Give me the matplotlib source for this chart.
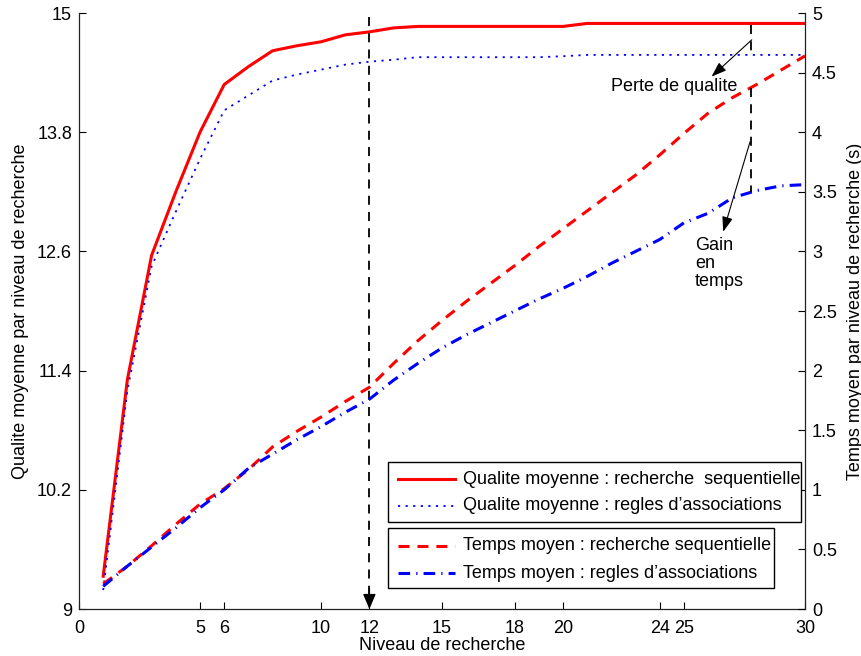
import matplotlib
matplotlib.use("Agg")
import matplotlib.pyplot as plt
from matplotlib.lines import Line2D
from matplotlib.patches import Rectangle

plt.rcParams['font.family'] = ['Liberation Sans', 'DejaVu Sans']
plt.rcParams['font.size'] = 13

# ---- data ----
niveaux = list(range(1, 31))
qualite_seq = [9.33, 11.31, 12.56, 13.20, 13.80, 14.28, 14.46, 14.62, 14.67, 14.71,
               14.78, 14.81, 14.85, 14.865, 14.865, 14.865, 14.865, 14.865, 14.865, 14.865,
               14.895, 14.895, 14.895, 14.895, 14.895, 14.895, 14.895, 14.895, 14.895, 14.895]
qualite_regles = [9.19, 11.20, 12.45, 13.00, 13.53, 14.02, 14.17, 14.32, 14.38, 14.43,
                  14.48, 14.51, 14.53, 14.555, 14.555, 14.555, 14.555, 14.555, 14.555, 14.565,
                  14.578, 14.578, 14.578, 14.578, 14.578, 14.578, 14.578, 14.578, 14.578, 14.578]
temps_seq = [0.21, 0.36, 0.53, 0.71, 0.88, 1.01, 1.17, 1.36, 1.49, 1.61,
             1.74, 1.86, 2.06, 2.25, 2.42, 2.58, 2.73, 2.88, 3.04, 3.19,
             3.34, 3.49, 3.64, 3.81, 3.99, 4.16, 4.29, 4.40, 4.52, 4.64]
temps_regles = [0.19, 0.36, 0.52, 0.68, 0.85, 1.00, 1.18, 1.30, 1.42, 1.53,
                1.65, 1.76, 1.92, 2.06, 2.19, 2.30, 2.40, 2.50, 2.60, 2.69,
                2.79, 2.90, 3.00, 3.10, 3.24, 3.32, 3.45, 3.51, 3.55, 3.56]

xticks = [0, 5, 6, 10, 12, 15, 18, 20, 24, 25, 30]
yticks_left = [9, 10.2, 11.4, 12.6, 13.8, 15]
yticks_left_labels = ['9', '10.2', '11.4', '12.6', '13.8', '15']
yticks_right = [0, 0.5, 1, 1.5, 2, 2.5, 3, 3.5, 4, 4.5, 5]
yticks_right_labels = ['0', '0.5', '1', '1.5', '2', '2.5', '3', '3.5', '4', '4.5', '5']

labels = ["Qualite moyenne : recherche  sequentielle",
          "Qualite moyenne : regles d\u2019associations",
          "Temps moyen : recherche sequentielle",
          "Temps moyen : regles d\u2019associations"]

# annotation positions
niveau_choisi = 12
niveau_comp = 27.75

W, H = 862, 656
fig = plt.figure(figsize=(W / 100, H / 100), dpi=100)
ax = fig.add_axes([79 / W, 1 - 609 / H, (805 - 79) / W, (609 - 13) / H])
ax2 = ax.twinx()

styles = [
    dict(color='#ff0000', lw=2.2, ls='-'),
    dict(color='#0000ff', lw=1.3, ls=(0, (1.2, 3.0))),
    dict(color='#ff0000', lw=2.2, ls=(0, (3.6, 2.6))),
    dict(color='#0000ff', lw=2.2, ls=(0, (3.8, 2.0, 0.4, 2.0))),
]
ax.plot(niveaux, qualite_seq, **styles[0])
ax.plot(niveaux, qualite_regles, **styles[1])
ax2.plot(niveaux, temps_seq, **styles[2])
ax2.plot(niveaux, temps_regles, **styles[3])

ax.set_xlim(0, 30)
ax.set_ylim(9, 15)
ax2.set_ylim(0, 5)
ax.set_xticks(xticks)
ax.set_xticklabels([str(t) for t in xticks])
ax.set_yticks(yticks_left)
ax.set_yticklabels(yticks_left_labels)
ax2.set_yticks(yticks_right)
ax2.set_yticklabels(yticks_right_labels)

for a in (ax, ax2):
    a.spines['top'].set_visible(False)
    for s in a.spines.values():
        s.set_linewidth(0.9)
        s.set_color('#222222')
ax.spines['right'].set_visible(False)
ax2.spines['left'].set_visible(False)
ax2.spines['bottom'].set_visible(False)

ax.tick_params(axis='x', direction='in', length=5, width=0.8, pad=8, labelsize=13)
ax.tick_params(axis='y', direction='in', length=5, width=0.8, pad=5, labelsize=13)
ax2.tick_params(axis='y', direction='in', length=5, width=0.8, pad=5, labelsize=13)

ax.set_xlabel("Niveau de recherche", fontsize=13, labelpad=0)
ax.set_ylabel("Qualite moyenne par niveau de recherche", fontsize=13, labelpad=6)
ax2.set_ylabel("Temps moyen par niveau de recherche (s)", fontsize=13, labelpad=7)

# vertical dashed line at chosen level with arrow head
ax.plot([niveau_choisi, niveau_choisi], [14.96, 9.15], color='k', lw=1.3,
        ls=(0, (5, 4)))
ax.annotate('', xy=(niveau_choisi, 9.0), xytext=(niveau_choisi, 9.2),
            arrowprops=dict(arrowstyle='-|>,head_length=0.7,head_width=0.3',
                            color='k', lw=1.0, shrinkA=0, shrinkB=0))

# comparison dashed segments
ax.plot([niveau_comp, niveau_comp], [14.88, 14.58], color='k', lw=1.3, ls=(0, (5, 4)))
ax2.plot([niveau_comp, niveau_comp], [4.37, 3.50], color='k', lw=1.3, ls=(0, (5, 4)))

ax.annotate('', xy=(26.14, 14.36), xytext=(27.8, 14.73),
            arrowprops=dict(arrowstyle='-|>,head_length=0.7,head_width=0.25',
                            color='k', lw=0.8, shrinkA=0, shrinkB=0))
ax2.annotate('', xy=(26.62, 3.165), xytext=(27.73, 3.92),
             arrowprops=dict(arrowstyle='-|>,head_length=0.7,head_width=0.25',
                             color='k', lw=0.8, shrinkA=0, shrinkB=0))
ax2.text(22.0, 4.38, "Perte de qualite", ha='left', va='center', fontsize=13)
ax2.text(25.45, 2.90, "Gain\nen\ntemps", ha='left', va='center', fontsize=13,
         linespacing=1.1)

# ---- legends (two boxed groups, MATLAB style) ----
def fx(px):
    return px / W

def fy(py):
    return 1 - py / H

boxes = [(388, 462, 801, 522), (388, 528, 774, 588)]
rows = [479, 506, 546, 573]
for (x0, y0, x1, y1) in boxes:
    fig.add_artist(Rectangle((fx(x0), fy(y1)), fx(x1) - fx(x0), fy(y0) - fy(y1),
                             transform=fig.transFigure, facecolor='white',
                             edgecolor='black', lw=1.0, zorder=3))
for st, lab, ry in zip(styles, labels, rows):
    fig.add_artist(Line2D([fx(398), fx(455)], [fy(ry), fy(ry)],
                          transform=fig.transFigure, zorder=4, **st))
    fig.text(fx(463), fy(ry), lab, ha='left', va='center', fontsize=13, zorder=4)

fig.savefig("out.png", dpi=100)
